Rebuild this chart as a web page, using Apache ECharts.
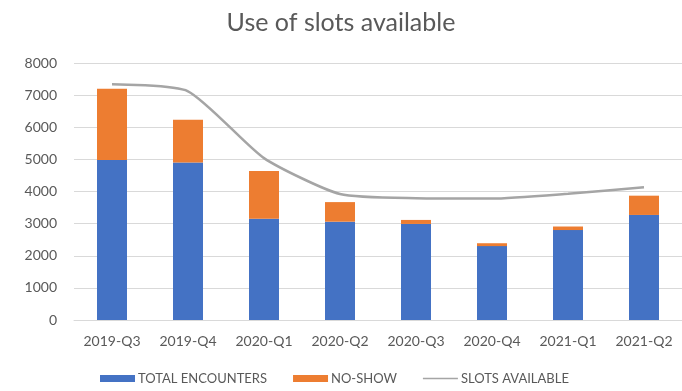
<!DOCTYPE html>
<html>
<head>
<meta charset="utf-8">
<script src="https://cdn.jsdelivr.net/npm/echarts@6/dist/echarts.min.js"></script>
<style>
	html, body { margin: 0; padding: 0; background: #fff; }
	#chart { width: 682px; height: 391px; }
</style>
</head>
<body>
<div id="chart"></div>
<script>
	// quarters on the x axis
	var quarters = ['2019-Q3', '2019-Q4', '2020-Q1', '2020-Q2', '2020-Q3', '2020-Q4', '2021-Q1', '2021-Q2'];
	// stacked bars
	var totalEncounters = [4980, 4900, 3150, 3060, 2990, 2300, 2800, 3270];
	var noShow = [2220, 1330, 1490, 610, 125, 90, 110, 600];
	// grey line
	var slotsAvailable = [7340, 7120, 5040, 3920, 3790, 3780, 3930, 4130];

	var font = 'Lato';
	// thin line for the legend, box kept at 35x7 by the two empty moves
	var lineIcon = 'path://M0,0L0,0M0,2.8H35V4.2H0ZM35,7L35,7';

	var myChart = echarts.init(document.getElementById('chart'));
	var option = {
		animation: false,
		backgroundColor: '#fff',
		title: {
			text: 'Use of slots available',
			left: 'center',
			top: 5,
			textStyle: { fontFamily: font, fontSize: 25, fontWeight: 'normal', color: '#595959' }
		},
		legend: {
			bottom: 1,
			left: 95,
			itemWidth: 35,
			itemHeight: 7,
			itemGap: 26,
			textStyle: { fontFamily: font, fontSize: 13, color: '#595959', padding: [0, 0, 0, -2] },
			data: [
				{ name: 'TOTAL ENCOUNTERS', icon: 'rect' },
				{ name: 'NO-SHOW', icon: 'rect' },
				{ name: 'SLOTS AVAILABLE', icon: lineIcon }
			]
		},
		grid: { left: 74, right: 0, top: 63, bottom: 71 },
		xAxis: {
			type: 'category',
			data: quarters,
			axisTick: { show: false },
			axisLine: { lineStyle: { color: '#d9d9d9' } },
			axisLabel: { fontFamily: font, fontSize: 14, color: '#595959', margin: 14 }
		},
		yAxis: {
			type: 'value',
			min: 0,
			max: 8000,
			interval: 1000,
			axisLabel: {
				fontFamily: font, fontSize: 14, color: '#595959', margin: 17,
				formatter: function (v) { return String(v); }
			},
			splitLine: { lineStyle: { color: '#d9d9d9' } }
		},
		series: [
			{
				name: 'TOTAL ENCOUNTERS',
				type: 'bar',
				stack: 'visits',
				barWidth: 30,
				itemStyle: { color: '#4472C4' },
				data: totalEncounters
			},
			{
				name: 'NO-SHOW',
				type: 'bar',
				stack: 'visits',
				barWidth: 30,
				itemStyle: { color: '#ED7D31' },
				data: noShow
			},
			{
				name: 'SLOTS AVAILABLE',
				type: 'line',
				smooth: 0.2,
				symbol: 'none',
				lineStyle: { color: '#A5A5A5', width: 2.5 },
				itemStyle: { color: '#A5A5A5' },
				data: slotsAvailable
			}
		]
	};
	myChart.setOption(option);
</script>
</body>
</html>
